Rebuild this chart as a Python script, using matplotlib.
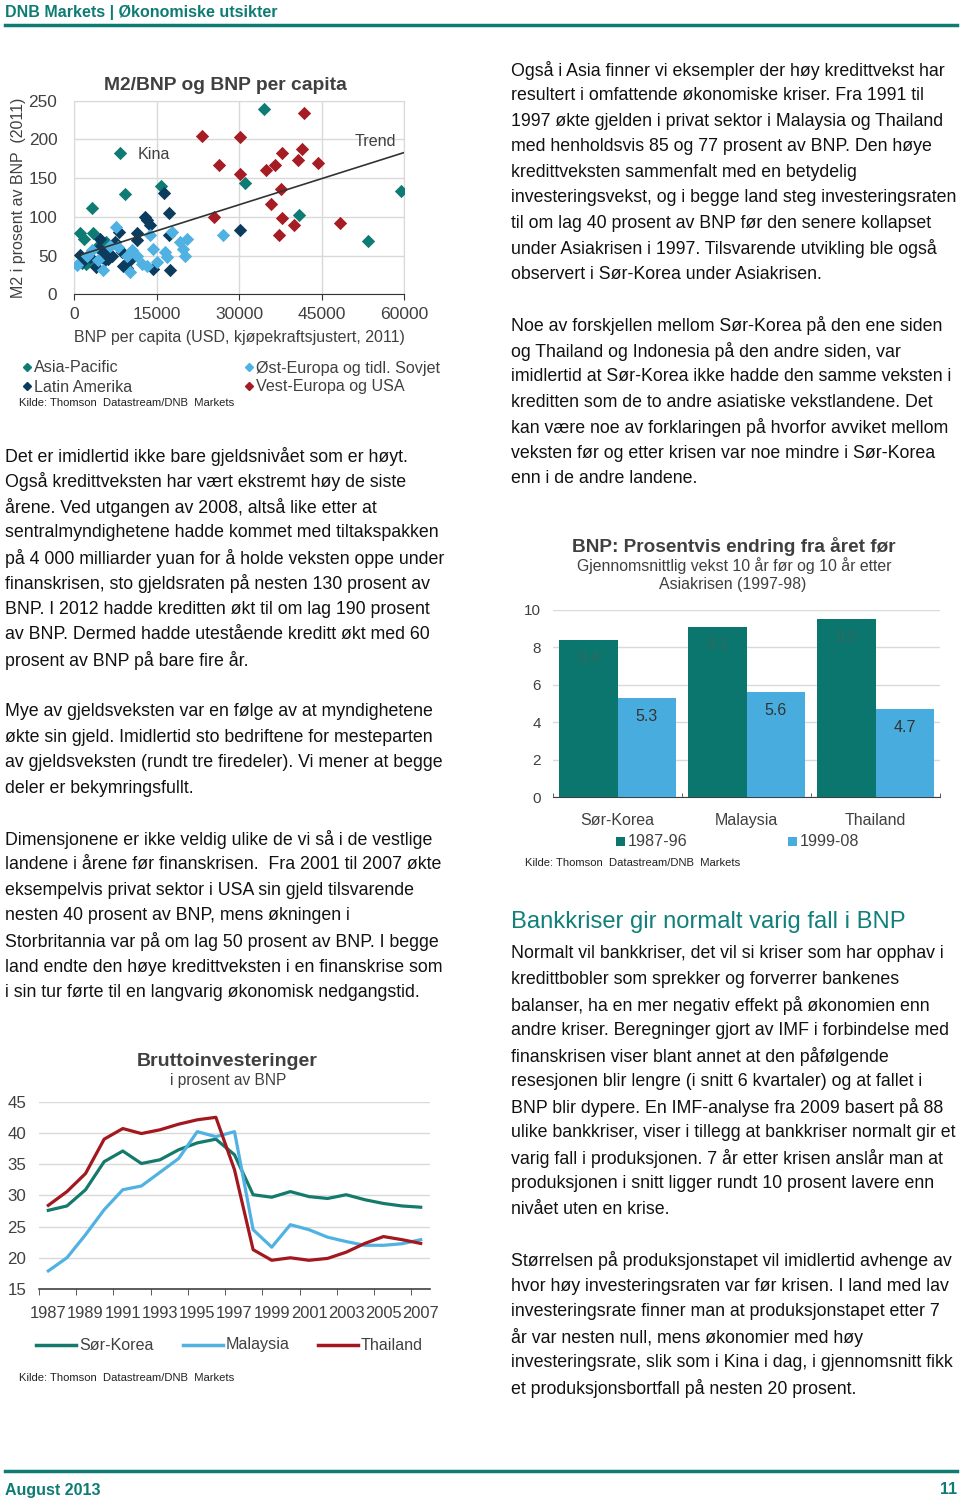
import numpy as np
import matplotlib
matplotlib.use('Agg')
import matplotlib.pyplot as plt
from matplotlib.lines import Line2D
from matplotlib.patches import Rectangle

plt.rcParams['font.family'] = ['Liberation Sans', 'DejaVu Sans']

W, H = 960, 1500
TEAL = '#0E7C74'
NAVY = '#0B3C5D'
LBLUE = '#50B2E2'
RED = '#A51C24'
GRID = '#D9D9D9'
TXT = '#404040'
BODY = '#111111'

# ---------------------------------------------------------------
# Scatter: M2/BNP vs BNP per capita (2011)
# ---------------------------------------------------------------
asia_x = [34570, 8300, 9260, 3200, 15800, 31060, 59500, 40870, 53500, 1000,
          1750, 3400, 5800, 4100, 2600, 2200, 1400]
asia_y = [239, 182, 130, 111, 140, 144, 134, 103, 69, 79,
          71, 79, 67, 61, 42, 39, 41]
latam_x = [16350, 17320, 12900, 13320, 13800, 8230, 11380, 17200, 11500, 4720,
           7450, 1090, 1570, 4000, 8960, 9570, 10170, 14410, 17440, 6900,
           5330, 8660, 30270, 4500, 6200, 5600, 2900]
latam_y = [131, 105, 100, 96, 89, 80, 79, 77, 70, 71,
           68, 51, 43, 35, 37, 34, 44, 33, 31, 49,
           54, 55, 83, 60, 46, 44, 48]
east_x = [7630, 480, 5210, 10170, 10470, 11380, 12290, 13200, 14410, 15140,
          16530, 16830, 19250, 20580, 19860, 20130, 17740, 13800, 3210, 8050,
          27120, 6500, 2300, 9700, 4300]
east_y = [87, 38, 32, 29, 57, 50, 39, 36, 58, 42,
          55, 48, 67, 72, 58, 50, 81, 77, 57, 61,
          77, 63, 50, 50, 44]
west_x = [23190, 30270, 41840, 26340, 30270, 34870, 36570, 37900, 41410, 40810,
          44320, 37600, 35900, 25490, 37900, 39960, 37300, 48370]
west_y = [204, 203, 234, 167, 155, 161, 167, 182, 188, 174,
          170, 136, 117, 100, 98, 89, 77, 92]
trend_x = [800, 60000]
trend_y = [50, 183]

# ---------------------------------------------------------------
# Bars: GDP growth before/after the Asian crisis
# ---------------------------------------------------------------
bar_countries = ['Sør-Korea', 'Malaysia', 'Thailand']
growth_before = [8.4, 9.1, 9.5]
growth_after = [5.3, 5.6, 4.7]

# ---------------------------------------------------------------
# Lines: gross investment, % of GDP
# ---------------------------------------------------------------
years = list(range(1987, 2008))
inv_korea = [27.6, 28.3, 30.9, 35.4, 37.1, 35.1, 35.7, 37.3, 38.4, 39.0, 36.5,
             30.1, 29.7, 30.6, 29.8, 29.5, 30.1, 29.3, 28.7, 28.3, 28.1]
inv_malaysia = [17.9, 20.0, 23.7, 27.7, 30.9, 31.5, 33.7, 35.9, 40.2, 39.4, 40.2,
                24.5, 21.7, 25.3, 24.5, 23.3, 22.6, 22.0, 22.0, 22.25, 22.9]
inv_thailand = [28.4, 30.6, 33.5, 39.0, 40.7, 39.9, 40.5, 41.4, 42.1, 42.5, 34.1,
                21.3, 19.6, 20.0, 19.6, 19.9, 20.9, 22.3, 23.4, 22.9, 22.3]

left_col = [
    "Det er imidlertid ikke bare gjeldsnivået som er høyt.",
    "Også kredittveksten har vært ekstremt høy de siste",
    "årene. Ved utgangen av 2008, altså like etter at",
    "sentralmyndighetene hadde kommet med tiltakspakken",
    "på 4 000 milliarder yuan for å holde veksten oppe under",
    "finanskrisen, sto gjeldsraten på nesten 130 prosent av",
    "BNP. I 2012 hadde kreditten økt til om lag 190 prosent",
    "av BNP. Dermed hadde utestående kreditt økt med 60",
    "prosent av BNP på bare fire år.",
    "",
    "Mye av gjeldsveksten var en følge av at myndighetene",
    "økte sin gjeld. Imidlertid sto bedriftene for mesteparten",
    "av gjeldsveksten (rundt tre firedeler). Vi mener at begge",
    "deler er bekymringsfullt.",
    "",
    "Dimensjonene er ikke veldig ulike de vi så i de vestlige",
    "landene i årene før finanskrisen.  Fra 2001 til 2007 økte",
    "eksempelvis privat sektor i USA sin gjeld tilsvarende",
    "nesten 40 prosent av BNP, mens økningen i",
    "Storbritannia var på om lag 50 prosent av BNP. I begge",
    "land endte den høye kredittveksten i en finanskrise som",
    "i sin tur førte til en langvarig økonomisk nedgangstid.",
]
right_top = [
    "Også i Asia finner vi eksempler der høy kredittvekst har",
    "resultert i omfattende økonomiske kriser. Fra 1991 til",
    "1997 økte gjelden i privat sektor i Malaysia og Thailand",
    "med henholdsvis 85 og 77 prosent av BNP. Den høye",
    "kredittveksten sammenfalt med en betydelig",
    "investeringsvekst, og i begge land steg investeringsraten",
    "til om lag 40 prosent av BNP før den senere kollapset",
    "under Asiakrisen i 1997. Tilsvarende utvikling ble også",
    "observert i Sør-Korea under Asiakrisen.",
    "",
    "Noe av forskjellen mellom Sør-Korea på den ene siden",
    "og Thailand og Indonesia på den andre siden, var",
    "imidlertid at Sør-Korea ikke hadde den samme veksten i",
    "kreditten som de to andre asiatiske vekstlandene. Det",
    "kan være noe av forklaringen på hvorfor avviket mellom",
    "veksten før og etter krisen var noe mindre i Sør-Korea",
    "enn i de andre landene.",
]
right_bottom = [
    "Normalt vil bankkriser, det vil si kriser som har opphav i",
    "kredittbobler som sprekker og forverrer bankenes",
    "balanser, ha en mer negativ effekt på økonomien enn",
    "andre kriser. Beregninger gjort av IMF i forbindelse med",
    "finanskrisen viser blant annet at den påfølgende",
    "resesjonen blir lengre (i snitt 6 kvartaler) og at fallet i",
    "BNP blir dypere. En IMF-analyse fra 2009 basert på 88",
    "ulike bankkriser, viser i tillegg at bankkriser normalt gir et",
    "varig fall i produksjonen. 7 år etter krisen anslår man at",
    "produksjonen i snitt ligger rundt 10 prosent lavere enn",
    "nivået uten en krise.",
    "",
    "Størrelsen på produksjonstapet vil imidlertid avhenge av",
    "hvor høy investeringsraten var før krisen. I land med lav",
    "investeringsrate finner man at produksjonstapet etter 7",
    "år var nesten null, mens økonomier med høy",
    "investeringsrate, slik som i Kina i dag, i gjennomsnitt fikk",
    "et produksjonsbortfall på nesten 20 prosent.",
]

fig = plt.figure(figsize=(W / 100, H / 100), dpi=100)


def rect(l, t, r, b):
    return [l / W, 1 - b / H, (r - l) / W, (b - t) / H]


def T(x, y, s, **kw):
    kw.setdefault('va', 'center')
    fig.text(x / W, 1 - y / H, s, **kw)


def paragraph(x, y0, lines, step=25.55):
    for i, s in enumerate(lines):
        if s:
            T(x, y0 + 1 + i * step, s, fontsize=12.75, color=BODY)


# header / footer
narrow = ['Liberation Sans Narrow', 'Liberation Sans', 'DejaVu Sans']
T(5, 12, 'DNB Markets | Økonomiske utsikter', fontsize=11.5, weight='bold',
  color=TEAL, family=narrow)
fig.add_artist(Line2D([5 / W, 957 / W], [1 - 25 / H] * 2, color=TEAL, lw=2.5))
fig.add_artist(Line2D([5 / W, 957 / W], [1 - 1471 / H] * 2, color=TEAL, lw=2.5))
T(5, 1490, 'August 2013', fontsize=11.5, weight='bold', color=TEAL, family=narrow)
T(957, 1490, '11', fontsize=11.5, weight='bold', color=TEAL, family=narrow, ha='right')

# ---- scatter chart
ax = fig.add_axes(rect(74, 100.7, 404, 294.3))
ax.scatter(asia_x, asia_y, marker='D', s=46, color=TEAL, zorder=3, lw=0)
ax.scatter(latam_x, latam_y, marker='D', s=46, color=NAVY, zorder=3, lw=0)
ax.scatter(east_x, east_y, marker='D', s=46, color=LBLUE, zorder=3, lw=0)
ax.scatter(west_x, west_y, marker='D', s=46, color=RED, zorder=3, lw=0)
ax.plot(trend_x, trend_y, color='#333333', lw=1.2, zorder=4)
ax.set_xlim(0, 60000)
ax.set_ylim(0, 250)
ax.set_xticks([0, 15000, 30000, 45000, 60000])
ax.set_yticks([0, 50, 100, 150, 200, 250])
ax.grid(True, color=GRID, lw=1)
ax.set_axisbelow(True)
for sp in ['top', 'right', 'left']:
    ax.spines[sp].set_color(GRID)
ax.spines['bottom'].set_color('#333333')
ax.tick_params(axis='x', direction='out', length=4, color='#333333',
               labelsize=12.6, labelcolor=TXT, pad=5)
ax.tick_params(axis='y', length=0, labelsize=12.4, labelcolor=TXT, pad=12)
ax.set_xlabel('BNP per capita (USD, kjøpekraftsjustert, 2011)', fontsize=11.5,
              color=TXT, labelpad=6)
ax.set_ylabel('M2 i prosent av BNP  (2011)', fontsize=11.5, color=TXT, labelpad=2)
T(225, 85, 'M2/BNP og BNP per capita', fontsize=13.9, weight='bold', color=TXT, ha='center')
ax.text(11640, 180, 'Kina', fontsize=11.6, color=TXT, va='center')
ax.text(58550, 197, 'Trend', fontsize=11.6, color=TXT, va='center', ha='right')

for (x, y, col, lab) in [(27, 367, TEAL, 'Asia-Pacific'), (27, 386, NAVY, 'Latin Amerika'),
                         (249, 367, LBLUE, 'Øst-Europa og tidl. Sovjet'),
                         (249, 386, RED, 'Vest-Europa og USA')]:
    fig.add_artist(Line2D([x / W], [1 - y / H], marker='D', ms=4, color=col, lw=0))
    T(x + 7, y + 1, lab, fontsize=11.6, color=TXT)
T(19, 403, 'Kilde: Thomson  Datastream/DNB  Markets', fontsize=8.1, color='#222222')

paragraph(5, 455, left_col)

# ---- line chart
ax3 = fig.add_axes(rect(39, 1101.7, 430, 1289))
xi = np.arange(len(years))
ax3.plot(xi, inv_korea, color='#137A6C', lw=2.3, label='Sør-Korea')
ax3.plot(xi, inv_malaysia, color=LBLUE, lw=2.3, label='Malaysia')
ax3.plot(xi, inv_thailand, color='#A3171E', lw=2.3, label='Thailand')
ax3.set_xlim(-0.5, len(years) - 0.5)
ax3.set_ylim(15, 45)
ax3.set_yticks([15, 20, 25, 30, 35, 40, 45])
ax3.yaxis.grid(True, color=GRID, lw=1)
ax3.set_axisbelow(True)
for sp in ['top', 'right', 'left']:
    ax3.spines[sp].set_visible(False)
ax3.spines['bottom'].set_color('#404040')
ax3.spines['bottom'].set_linewidth(1.2)
ax3.set_xticks(xi[::2])
ax3.set_xticklabels([str(y) for y in years[::2]])
ax3.set_xticks(np.arange(-0.5, len(years), 2), minor=True)
ax3.tick_params(axis='x', which='major', length=0, labelsize=11.9, labelcolor=TXT, pad=12)
ax3.tick_params(axis='x', which='minor', direction='out', length=4, color='#404040')
ax3.tick_params(axis='y', length=0, labelsize=12.2, labelcolor=TXT, pad=16)
for lab in ax3.get_yticklabels():
    lab.set_horizontalalignment('center')
T(227, 1062, 'Bruttoinvesteringer', fontsize=14, weight='bold', color=TXT, ha='center')
T(228, 1081, 'i prosent av BNP', fontsize=11.2, color=TXT, ha='center')
for (x0, col, lab) in [(36, '#137A6C', 'Sør-Korea'), (183, LBLUE, 'Malaysia'),
                       (318, '#A3171E', 'Thailand')]:
    fig.add_artist(Line2D([x0 / W, (x0 + 40) / W], [1 - 1345 / H] * 2, color=col, lw=2.5))
    T(x0 + 43, 1345, lab, fontsize=11.6, color=TXT)
T(19, 1378, 'Kilde: Thomson  Datastream/DNB  Markets', fontsize=8.1, color='#222222')

# ---- right column text
paragraph(511, 69, right_top)

# ---- bar chart
ax2 = fig.add_axes(rect(553, 610, 940, 797.3))
bx = np.arange(len(bar_countries))
bw = 0.455
b1 = ax2.bar(bx - bw / 2, growth_before, bw, color='#0B766E', label='1987-96', zorder=3)
b2 = ax2.bar(bx + bw / 2, growth_after, bw, color='#48ADDE', label='1999-08', zorder=3)
for rects, vals, col in [(b1, growth_before, '#2F6A62'), (b2, growth_after, '#333333')]:
    for r, v in zip(rects, vals):
        ax2.annotate(f'{v:.1f}', (r.get_x() + r.get_width() / 2, v), xytext=(0, -13),
                     textcoords='offset points', ha='center', va='center',
                     fontsize=11.5, color=col, zorder=4)
ax2.set_xlim(-0.5, 2.5)
ax2.set_ylim(0, 10)
ax2.set_yticks([0, 2, 4, 6, 8, 10])
ax2.yaxis.grid(True, color=GRID, lw=1)
ax2.set_axisbelow(True)
for sp in ['top', 'right', 'left']:
    ax2.spines[sp].set_visible(False)
ax2.spines['bottom'].set_color('#404040')
ax2.set_xticks(bx)
ax2.set_xticklabels(bar_countries)
ax2.set_xticks([-0.5, 0.5, 1.5, 2.5], minor=True)
ax2.tick_params(axis='x', which='major', length=0, labelsize=11.5, labelcolor=TXT, pad=11)
ax2.tick_params(axis='x', which='minor', direction='in', length=3, color='#404040')
ax2.tick_params(axis='y', length=0, labelsize=11, labelcolor=TXT, pad=8.5)
T(734, 546, 'BNP: Prosentvis endring fra året før', fontsize=13.7, weight='bold',
  color=TXT, ha='center')
T(734, 566, 'Gjennomsnittlig vekst 10 år før og 10 år etter', fontsize=11.4,
  color=TXT, ha='center')
T(733, 584, 'Asiakrisen (1997-98)', fontsize=11.4, color=TXT, ha='center')
for (x0, col, lab) in [(616, '#0B766E', '1987-96'), (788, '#48ADDE', '1999-08')]:
    fig.add_artist(Rectangle((x0 / W, 1 - 846 / H), 9 / W, 9 / H, facecolor=col,
                             edgecolor='none', transform=fig.transFigure))
    T(x0 + 12, 841, lab, fontsize=11.6, color=TXT)
T(525, 863, 'Kilde: Thomson  Datastream/DNB  Markets', fontsize=8.1, color='#222222')

T(511, 922, 'Bankkriser gir normalt varig fall i BNP', fontsize=17.1, color='#11807A')
paragraph(511, 953, right_bottom)

fig.savefig('out.png', dpi=100)
